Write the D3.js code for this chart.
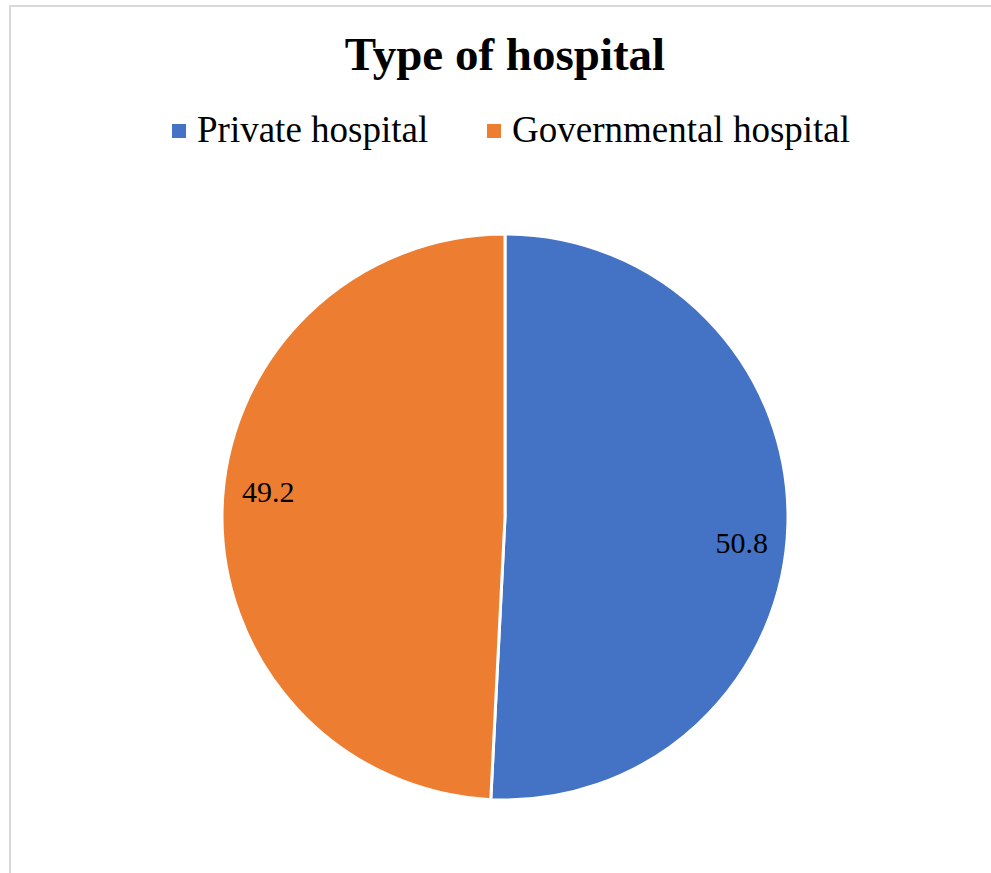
<!DOCTYPE html>
<html><head><meta charset="utf-8">
<script src="https://cdn.jsdelivr.net/npm/d3@7"></script>
<style>html,body{margin:0;padding:0;background:#fff;overflow:hidden}</style>
</head><body>
<script>
const categories = ["Private hospital", "Governmental hospital"];
const values = [50.8, 49.2];
const colors = ["#4472C4", "#ED7D31"];
const title = "Type of hospital";

const W = 991, H = 873;
const svg = d3.select("body").append("svg").attr("width", W).attr("height", H);
svg.append("rect").attr("x", 10).attr("y", 6).attr("width", 1000).attr("height", 1000)
  .attr("fill", "#fff").attr("stroke", "#d9d9d9").attr("stroke-width", 2);

const serif = "'Liberation Serif', 'Times New Roman', serif";
svg.append("text").attr("x", 505).attr("y", 70).attr("text-anchor", "middle")
  .attr("font-family", serif).attr("font-weight", "bold").attr("font-size", 47).text(title);

// legend
const legendX = [172, 487];
const lg = svg.selectAll("g.leg").data(categories).enter().append("g").attr("class", "leg");
lg.append("rect").attr("x", (d, i) => legendX[i]).attr("y", 124).attr("width", 14).attr("height", 14)
  .attr("fill", (d, i) => colors[i]);
lg.append("text").attr("x", (d, i) => legendX[i] + 25).attr("y", 142)
  .attr("font-family", serif).attr("font-size", 37).attr("fill", "#000").text(d => d);

const cx = 505, cy = 517, r = 283;
const pie = d3.pie().sort(null).value(d => d)(values);
const arc = d3.arc().innerRadius(0).outerRadius(r);
const g = svg.append("g").attr("transform", `translate(${cx},${cy})`);
g.selectAll("path").data(pie).enter().append("path")
  .attr("d", arc).attr("fill", (d, i) => colors[i])
  .attr("stroke", "#fff").attr("stroke-width", 3).attr("stroke-linejoin", "round");

const labelR = 238, labelShift = 4.7 * Math.PI / 180;
g.selectAll("text.lbl").data(pie).enter().append("text").attr("class", "lbl")
  .attr("transform", d => {
    const a = (d.startAngle + d.endAngle) / 2 + labelShift;
    return `translate(${labelR * Math.sin(a)},${-labelR * Math.cos(a)})`;
  })
  .attr("text-anchor", "middle").attr("dy", "0.35em")
  .attr("font-family", serif).attr("font-size", 30).attr("fill", "#000")
  .text(d => d.data.toFixed(1));
</script>
</body></html>
